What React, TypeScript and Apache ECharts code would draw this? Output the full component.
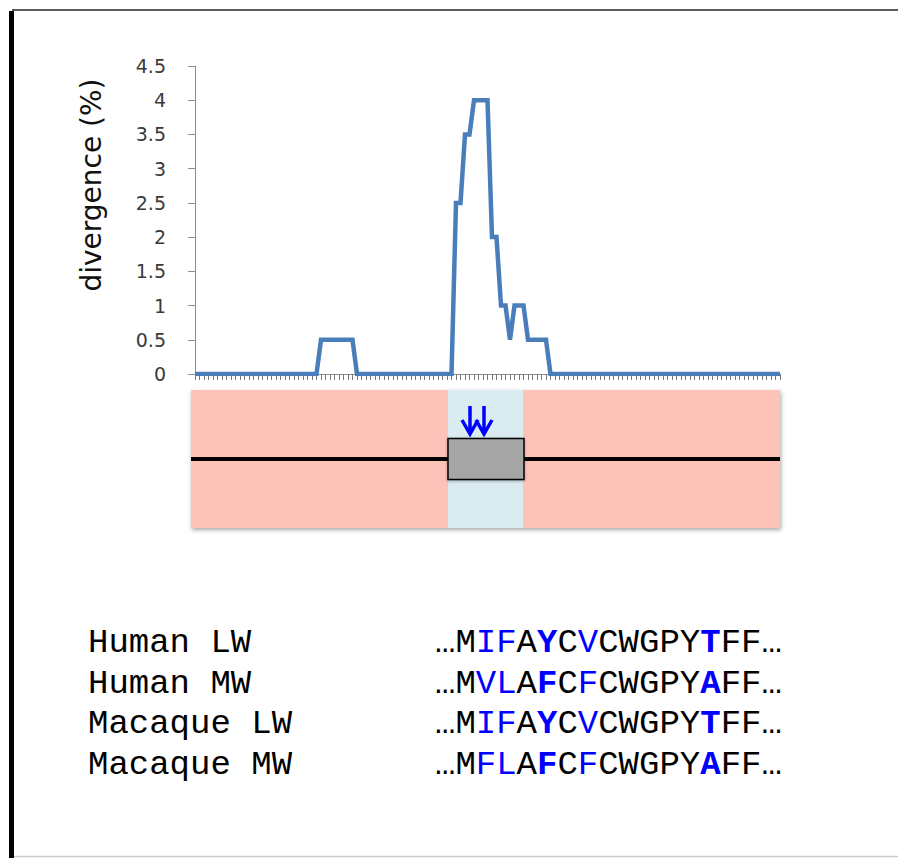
import React, { useEffect, useRef } from "react";
import * as echarts from "echarts";

// sliding-window positions along the sequence (category axis)
const windowPositions: string[] = [
  "1","2","3","4","5","6","7","8","9","10","11","12","13","14","15","16","17","18","19","20",
  "21","22","23","24","25","26","27","28","29","30","31","32","33","34","35","36","37","38","39","40",
  "41","42","43","44","45","46","47","48","49","50","51","52","53","54","55","56","57","58","59","60",
  "61","62","63","64","65","66","67","68","69","70","71","72","73","74","75","76","77","78","79","80",
  "81","82","83","84","85","86","87","88","89","90","91","92","93","94","95","96","97","98","99","100",
  "101","102","103","104","105","106","107","108","109","110","111","112","113","114","115","116","117","118","119","120",
  "121","122","123","124","125","126","127","128","129","130","131",
];

// divergence (%) per window
const divergence: number[] = [
  0, 0, 0, 0, 0, 0, 0, 0, 0, 0,
  0, 0, 0, 0, 0, 0, 0, 0, 0, 0,
  0, 0, 0, 0, 0, 0, 0, 0, 0.5, 0.5,
  0.5, 0.5, 0.5, 0.5, 0.5, 0.5, 0, 0, 0, 0,
  0, 0, 0, 0, 0, 0, 0, 0, 0, 0,
  0, 0, 0, 0, 0, 0, 0, 0, 2.5, 2.5,
  3.5, 3.5, 4, 4, 4, 4, 2, 2, 1, 1,
  0.5, 1, 1, 1, 0.5, 0.5, 0.5, 0.5, 0.5, 0,
  0, 0, 0, 0, 0, 0, 0, 0, 0, 0,
  0, 0, 0, 0, 0, 0, 0, 0, 0, 0,
  0, 0, 0, 0, 0, 0, 0, 0, 0, 0,
  0, 0, 0, 0, 0, 0, 0, 0, 0, 0,
  0, 0, 0, 0, 0, 0, 0, 0, 0, 0,
  0,
];

const yMin = 0;
const yMax = 4.5;
const yStep = 0.5;
const yAxisTitle = "divergence (%)";

const speciesLabels: string[] = ["Human LW", "Human MW", "Macaque LW", "Macaque MW"];

// sequence segments: [text, style key] k = black, b = blue, B = blue bold
const sequenceRows: [string, string][][] = [
  [["…M", "k"], ["IF", "b"], ["A", "k"], ["Y", "B"], ["C", "k"], ["V", "b"], ["CWGPY", "k"], ["T", "B"], ["FF…", "k"]],
  [["…M", "k"], ["VL", "b"], ["A", "k"], ["F", "B"], ["C", "k"], ["F", "b"], ["CWGPY", "k"], ["A", "B"], ["FF…", "k"]],
  [["…M", "k"], ["IF", "b"], ["A", "k"], ["Y", "B"], ["C", "k"], ["V", "b"], ["CWGPY", "k"], ["T", "B"], ["FF…", "k"]],
  [["…M", "k"], ["FL", "b"], ["A", "k"], ["F", "B"], ["C", "k"], ["F", "b"], ["CWGPY", "k"], ["A", "B"], ["FF…", "k"]],
];

const MONO = "'Liberation Mono', 'DejaVu Sans Mono', monospace";
const SANS = "'DejaVu Sans', Verdana, sans-serif";

function textEl(x: number, y: number, text: string, extra: any = {}, style: any = {}) {
  return {
    type: "text",
    x,
    y,
    ...extra,
    style: {
      text,
      align: "left",
      verticalAlign: "middle",
      textAlign: "left",
      textVerticalAlign: "middle",
      ...style,
    },
  };
}

export default function App() {
  const ref = useRef<HTMLDivElement>(null);

  useEffect(() => {
    if (!ref.current) return;
    const chart = echarts.init(ref.current, undefined, { renderer: "svg" });

    const rowYs = [643, 684, 724, 765];
    const mono = { fontFamily: MONO, fontSize: 34 };
    const rich = {
      k: { ...mono, fill: "#000000", color: "#000000", fontWeight: "normal" },
      b: { ...mono, fill: "#0000ff", color: "#0000ff", fontWeight: "normal" },
      B: { ...mono, fill: "#0000ff", color: "#0000ff", fontWeight: "bold" },
    };

    const labelEls = speciesLabels.map((s, i) =>
      textEl(88, rowYs[i], s, {}, { fontFamily: MONO, fontSize: 34, fill: "#000000" })
    );
    const seqEls = sequenceRows.map((segs, i) =>
      textEl(
        435,
        rowYs[i],
        segs.map(([t, k]) => `{${k}|${t}}`).join(""),
        {},
        { fontFamily: MONO, fontSize: 34, fill: "#000000", rich }
      )
    );

    const arrow = (cx: number) => [
      {
        type: "line",
        shape: { x1: cx, y1: 406, x2: cx, y2: 434 },
        style: { stroke: "#0000ff", lineWidth: 3.5 },
      },
      {
        type: "polyline",
        shape: { points: [[cx - 8, 420], [cx, 434], [cx + 8, 420]] },
        style: { stroke: "#0000ff", lineWidth: 3.5, fill: null, lineJoin: "miter" },
      },
    ];

    const option: any = {
      animation: false,
      backgroundColor: "#ffffff",
      grid: { left: 195, right: 118, top: 66, bottom: 484, containLabel: false },
      xAxis: {
        type: "category",
        data: windowPositions,
        boundaryGap: false,
        axisLine: { show: true, lineStyle: { color: "#8c8c8c", width: 1 } },
        axisTick: { show: true, interval: 0, length: 6, inside: false, lineStyle: { color: "#7a7a7a", width: 1 } },
        axisLabel: { show: false },
        splitLine: { show: false },
      },
      yAxis: {
        type: "value",
        min: yMin,
        max: yMax,
        interval: yStep,
        axisLine: { show: true, lineStyle: { color: "#8c8c8c", width: 1 } },
        axisTick: { show: true, length: 7, inside: false, lineStyle: { color: "#8c8c8c", width: 1 } },
        axisLabel: { show: true, margin: 29, color: "#3a3a3a", fontSize: 19, fontFamily: SANS },
        splitLine: { show: false },
      },
      series: [
        {
          type: "line",
          data: divergence,
          showSymbol: false,
          symbol: "none",
          lineStyle: { color: "#4a7ebb", width: 4.5, join: "miter" },
          z: 3,
        },
      ],
      graphic: [
        // frame
        { type: "rect", shape: { x: 9, y: 11, width: 5, height: 847 }, style: { fill: "#000000" } },
        { type: "line", shape: { x1: 12, y1: 10, x2: 898, y2: 10 }, style: { stroke: "#5a5a5a", lineWidth: 2 } },
        { type: "line", shape: { x1: 14, y1: 856.5, x2: 898, y2: 856.5 }, style: { stroke: "#cccccc", lineWidth: 1.5 } },
        // y title
        textEl(91, 185, yAxisTitle, { rotation: Math.PI / 2 }, {
          fontFamily: SANS, fontSize: 28, fill: "#111111", align: "center", textAlign: "center",
        }),
        // gene diagram
        {
          type: "rect",
          shape: { x: 191, y: 390, width: 589, height: 138 },
          style: { fill: "#fdc3b9", shadowBlur: 4, shadowColor: "rgba(0,0,0,0.35)", shadowOffsetX: 1, shadowOffsetY: 2 },
        },
        { type: "rect", shape: { x: 448, y: 390, width: 75, height: 138 }, style: { fill: "#daebf2" } },
        { type: "line", shape: { x1: 191, y1: 459, x2: 780, y2: 459 }, style: { stroke: "#000000", lineWidth: 4 } },
        {
          type: "rect",
          shape: { x: 448, y: 438.5, width: 76, height: 41 },
          style: { fill: "#a6a6a6", stroke: "#000000", lineWidth: 1.5, shadowBlur: 3, shadowColor: "rgba(0,0,0,0.3)", shadowOffsetY: 1 },
        },
        ...arrow(470),
        ...arrow(484),
        ...labelEls,
        ...seqEls,
      ],
    };

    chart.setOption(option);
    return () => chart.dispose();
  }, []);

  return (
    <div
      ref={ref}
      style={{ position: "fixed", left: 0, top: 0, width: 898, height: 858, background: "#ffffff" }}
    />
  );
}
